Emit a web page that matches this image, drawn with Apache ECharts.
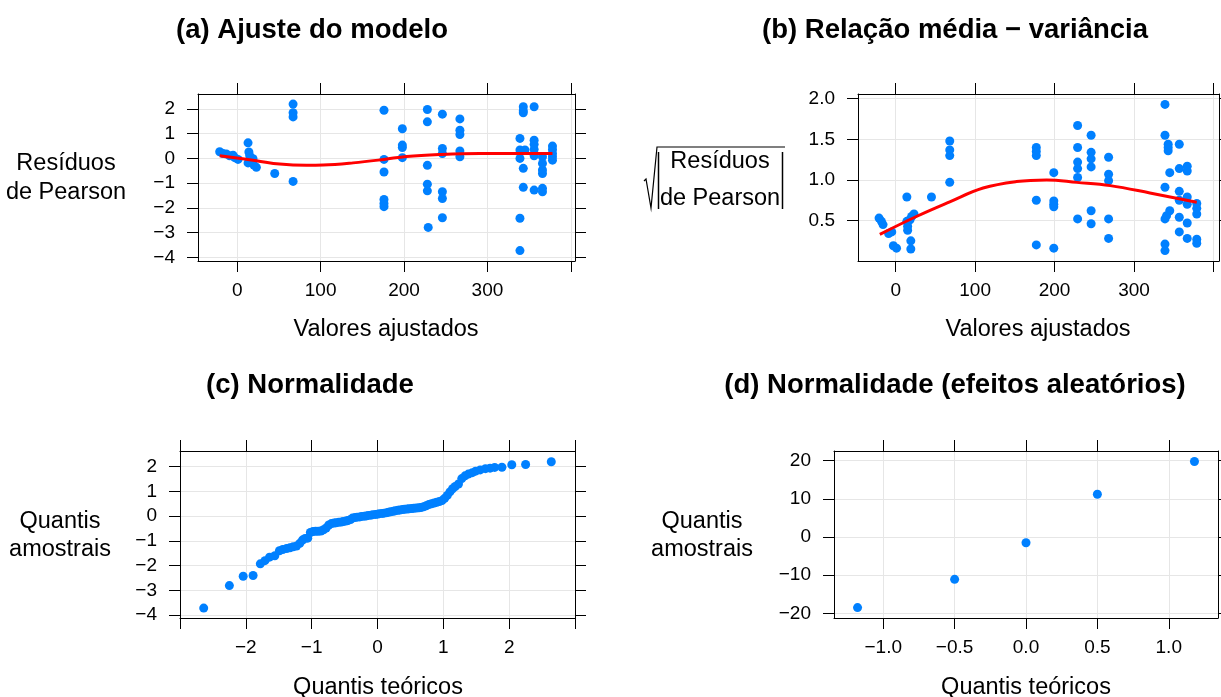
<!DOCTYPE html>
<html>
<head>
<meta charset="utf-8">
<script src="https://cdn.jsdelivr.net/npm/echarts@6/dist/echarts.min.js"></script>
<style>
  html, body { margin: 0; padding: 0; background: #fff; }
  #chart { width: 1221px; height: 697px; }
</style>
</head>
<body>
<div id="chart"></div>
<script>
  // (a) ajuste do modelo: valores ajustados x residuos de Pearson
  const fittedA = [-21, -17, -13, -9, -5, -3, 1, 13, 14, 15, 17, 13, 19, 20, 23, 45, 67, 67, 67, 67,
    176, 176, 176, 176, 176, 176, 198, 198, 198, 198, 228, 228, 228, 228, 228, 229,
    246, 246, 246, 246, 246, 246, 267, 267, 267, 267, 267, 339, 339, 339, 339, 339,
    343, 343, 343, 343, 343, 345, 356, 356, 356, 356, 356, 356, 366, 366, 366, 366, 366, 366,
    378, 378, 378, 378, 378]
  const pearsonA = [0.27, 0.20, 0.18, 0.11, 0.13, 0.03, -0.04, 0.63, 0.26, 0.11, -0.07, -0.18, -0.01, -0.27, -0.36, -0.61, -0.93, 2.2, 1.85, 1.68,
    1.95, -0.04, -0.55, -1.66, -1.82, -1.95, 1.2, 0.54, 0.44, 0.03, 1.98, 1.48, -0.28, -1.04, -1.31, -2.79,
    1.79, 0.40, 0.20, -1.35, -1.62, -2.40, 1.60, 1.14, 0.97, 0.30, 0.07, 0.81, 0.34, 0.0, -2.42, -3.73,
    2.09, 1.93, 1.85, -0.40, -1.17, 0.34, 2.09, 0.74, 0.57, 0.36, 0.11, -1.28, 0.07, -0.20, -0.47, -0.61, -1.21, -1.35,
    0.50, 0.36, 0.20, 0.07, -0.07]
  const loessAx = [-21, 23, 51, 83, 103, 139, 176, 203, 243, 291, 378]
  const loessAy = [0.11, -0.09, -0.23, -0.28, -0.27, -0.18, -0.04, 0.08, 0.16, 0.20, 0.20]

  // (b) relacao media - variancia
  const fittedB = [-21, -18, -16, -9, -5, -3, 1, 14, 14, 15, 15, 18, 20, 23, 19, 19, 45, 68, 68, 68, 68,
    177, 177, 177, 177, 177, 199, 199, 199, 199, 199, 229, 229, 229, 229, 229, 229,
    246, 246, 246, 246, 246, 246, 268, 268, 268, 268, 268,
    339, 339, 343, 343, 343, 339, 339, 345, 345, 341, 339, 339,
    357, 357, 357, 357, 357, 357, 367, 367, 367, 367, 367, 367, 379, 379, 379, 379, 379]
  const sqrtAbsB = [0.53, 0.49, 0.45, 0.34, 0.36, 0.19, 0.16, 0.79, 0.49, 0.43, 0.38, 0.51, 0.55, 0.58, 0.25, 0.15, 0.79, 1.48, 1.37, 1.30, 0.97,
    1.40, 1.35, 1.30, 0.75, 0.20, 1.09, 0.74, 0.70, 0.67, 0.16, 1.67, 1.40, 1.22, 1.14, 1.03, 0.52,
    1.55, 1.34, 1.26, 1.16, 0.62, 0.46, 1.28, 1.07, 0.99, 0.52, 0.28,
    1.93, 1.55, 1.44, 1.40, 1.36, 0.91, 0.52, 1.09, 0.62, 0.56, 0.21, 0.13,
    1.44, 1.14, 0.86, 0.75, 0.54, 0.36, 1.17, 1.11, 0.79, 0.70, 0.47, 0.28, 0.71, 0.65, 0.58, 0.27, 0.22]
  const loessBx = [-20, 26, 68, 110, 152, 190, 228, 270, 320, 379]
  const loessBy = [0.33, 0.55, 0.73, 0.90, 0.98, 1.0, 0.97, 0.93, 0.84, 0.725]

  // (c) normalidade
  const theoC = [-2.64, -2.25, -2.04, -1.89, -1.78, -1.71, -1.64, -1.56, -1.49, -1.44, -1.38, -1.33, -1.28, -1.23, -1.18,
    -1.14, -1.10, -1.06, -1.02, -0.98, -0.94, -0.90, -0.86, -0.82, -0.78, -0.74, -0.70, -0.66, -0.63, -0.59,
    -0.55, -0.52, -0.48, -0.45, -0.41, -0.38, -0.34, -0.31, -0.27, -0.24, -0.20, -0.17, -0.14, -0.10, -0.07,
    -0.03, 0.0, 0.03, 0.07, 0.10, 0.14, 0.17, 0.20, 0.24, 0.27, 0.31, 0.34, 0.38, 0.41, 0.45,
    0.48, 0.52, 0.55, 0.59, 0.63, 0.66, 0.70, 0.74, 0.78, 0.82, 0.86, 0.90, 0.94, 0.98, 1.02,
    1.06, 1.10, 1.14, 1.18, 1.23, 1.28, 1.33, 1.38, 1.44, 1.49, 1.56, 1.64, 1.71, 1.78, 1.89, 2.04, 2.25, 2.64]
  const sampleC = [-3.72, -2.81, -2.43, -2.40, -1.93, -1.80, -1.66, -1.60, -1.40, -1.35, -1.31, -1.28, -1.24, -1.21, -1.10,
    -0.97, -0.90, -0.89, -0.66, -0.62, -0.61, -0.61, -0.60, -0.55, -0.48, -0.36, -0.30, -0.28, -0.27, -0.25,
    -0.24, -0.22, -0.20, -0.18, -0.14, -0.08, -0.05, -0.04, -0.03, -0.01, 0.00, 0.01, 0.03, 0.04, 0.06,
    0.07, 0.08, 0.10, 0.11, 0.12, 0.14, 0.16, 0.18, 0.20, 0.22, 0.24, 0.25, 0.27, 0.28, 0.29,
    0.30, 0.31, 0.32, 0.33, 0.34, 0.35, 0.38, 0.42, 0.47, 0.50, 0.53, 0.56, 0.59, 0.63, 0.72,
    0.84, 0.98, 1.11, 1.20, 1.30, 1.52, 1.63, 1.70, 1.76, 1.82, 1.87, 1.92, 1.94, 1.97, 1.98, 2.08, 2.09, 2.20]

  // (d) normalidade (efeitos aleatorios)
  const theoD = [-1.18, -0.50, 0.0, 0.50, 1.18]
  const sampleD = [-18.5, -11.1, -1.5, 11.2, 19.8]

  // ticks
  const ticksFitted = [0, 100, 200, 300, 400]
  const labelsFitted = [0, 100, 200, 300]
  const ticksResid = [-4, -3, -2, -1, 0, 1, 2]
  const ticksSqrt = [0.5, 1.0, 1.5, 2.0]
  const ticksTheoC = [-3, -2, -1, 0, 1, 2, 3]
  const labelsTheoC = [-2, -1, 0, 1, 2]
  const ticksTheoD = [-1.0, -0.5, 0.0, 0.5, 1.0]
  const ticksSampleD = [-20, -10, 0, 10, 20]

  const FONT = '"Liberation Sans", Arial, Helvetica, sans-serif'
  const minus = s => String(s).replace('-', '\u2212')
  const fmtInt = v => minus(Math.round(v))
  const fmt1 = v => minus(v.toFixed(1))

  const zip = (xs, ys) => xs.map((x, i) => [x, ys[i]])

  function xAxes(gridIndex, min, max, ticks, labels, fmt) {
    const base = {
      type: 'value', gridIndex: gridIndex, min: min, max: max,
      axisLine: { show: true, onZero: false, lineStyle: { color: '#000', width: 1 } },
      axisTick: { show: true, inside: false, length: 11, customValues: ticks, lineStyle: { color: '#000', width: 1 } }
    }
    return [
      Object.assign({}, base, {
        position: 'bottom',
        axisLabel: { show: true, customValues: labels, margin: 20, fontSize: 19, color: '#000', fontFamily: FONT, formatter: fmt },
        splitLine: { show: true, lineStyle: { color: '#e6e6e6', width: 1 } }
      }),
      Object.assign({}, base, {
        position: 'top',
        axisLabel: { show: false },
        splitLine: { show: false }
      })
    ]
  }

  function yAxes(gridIndex, min, max, ticks, labels, fmt) {
    const base = {
      type: 'value', gridIndex: gridIndex, min: min, max: max,
      axisLine: { show: true, onZero: false, lineStyle: { color: '#000', width: 1 } },
      axisTick: { show: true, inside: false, length: 11, customValues: ticks, lineStyle: { color: '#000', width: 1 } }
    }
    return [
      Object.assign({}, base, {
        position: 'left',
        axisLabel: { show: true, customValues: labels, margin: 23, fontSize: 19, color: '#000', fontFamily: FONT, formatter: fmt },
        splitLine: { show: true, lineStyle: { color: '#e6e6e6', width: 1 } }
      }),
      Object.assign({}, base, {
        position: 'right',
        axisLabel: { show: false },
        splitLine: { show: false }
      })
    ]
  }

  function points(g, xs, ys) {
    return {
      type: 'scatter', xAxisIndex: 2 * g, yAxisIndex: 2 * g,
      data: zip(xs, ys), symbol: 'circle', symbolSize: 9,
      itemStyle: { color: '#0080ff', opacity: 1 }, z: 3, silent: true
    }
  }

  function smoothLine(g, xs, ys) {
    return {
      type: 'line', xAxisIndex: 2 * g, yAxisIndex: 2 * g,
      data: zip(xs, ys), smooth: 0.4, showSymbol: false, symbol: 'none',
      lineStyle: { color: '#ff0000', width: 3 }, z: 4, silent: true
    }
  }

  function label(x, y, text, size, bold, lineHeight) {
    return {
      type: 'text', x: x, y: y, silent: true,
      style: {
        text: text, fill: '#000', align: 'center', verticalAlign: 'middle',
        font: (bold ? 'bold ' : '') + size + 'px ' + FONT, lineHeight: lineHeight || size
      }
    }
  }

  const chart = echarts.init(document.getElementById('chart'), null, { renderer: 'canvas' })
  chart.setOption({
    animation: false,
    backgroundColor: '#fff',
    grid: [
      { left: 198, top: 94, width: 377, height: 167 },
      { left: 858, top: 94, width: 361, height: 167 },
      { left: 180, top: 451, width: 395, height: 167 },
      { left: 834, top: 451, width: 384, height: 167 }
    ],
    xAxis: [].concat(
      xAxes(0, -47, 405, ticksFitted, labelsFitted, fmtInt),
      xAxes(1, -47.5, 407, ticksFitted, labelsFitted, fmtInt),
      xAxes(2, -3, 3, ticksTheoC, labelsTheoC, fmtInt),
      xAxes(3, -1.345, 1.345, ticksTheoD, ticksTheoD, fmt1)
    ),
    yAxis: [].concat(
      yAxes(0, -4.15, 2.607, ticksResid, ticksResid, fmtInt),
      yAxes(1, 0.002, 2.058, ticksSqrt, ticksSqrt, fmt1),
      yAxes(2, -4.12, 2.635, ticksResid, ticksResid, fmtInt),
      yAxes(3, -21.23, 22.55, ticksSampleD, ticksSampleD, fmtInt)
    ),
    series: [
      points(0, fittedA, pearsonA),
      smoothLine(0, loessAx, loessAy),
      points(1, fittedB, sqrtAbsB),
      smoothLine(1, loessBx, loessBy),
      points(2, theoC, sampleC),
      points(3, theoD, sampleD)
    ],
    graphic: [
      label(312, 30, '(a) Ajuste do modelo', 27.5, true),
      label(955, 30, '(b) Relação média \u2212 variância', 27.5, true),
      label(310, 385, '(c) Normalidade', 27.5, true),
      label(955, 385, '(d) Normalidade (efeitos aleatórios)', 27.5, true),

      label(386, 330, 'Valores ajustados', 23.5),
      label(1038, 330, 'Valores ajustados', 23.5),
      label(378, 688, 'Quantis teóricos', 23.5),
      label(1026, 688, 'Quantis teóricos', 23.5),

      label(66, 178, 'Resíduos\nde Pearson', 23.5, false, 29),
      label(60, 536, 'Quantis\namostrais', 23.5, false, 28),
      label(702, 536, 'Quantis\namostrais', 23.5, false, 28),

      // raiz de |residuos de Pearson|
      label(720, 162, 'Resíduos', 23.5),
      label(720, 199, 'de Pearson', 23.5),
      {
        type: 'polyline', silent: true,
        shape: { points: [[644, 181], [646, 179], [651, 208], [657, 147], [785, 147]] },
        style: { stroke: '#000', lineWidth: 1.2, fill: null }
      },
      { type: 'line', silent: true, shape: { x1: 658.5, y1: 152, x2: 658.5, y2: 209 }, style: { stroke: '#000', lineWidth: 1.5 } },
      { type: 'line', silent: true, shape: { x1: 782.5, y1: 152, x2: 782.5, y2: 209 }, style: { stroke: '#000', lineWidth: 1.5 } }
    ]
  })
</script>
</body>
</html>
